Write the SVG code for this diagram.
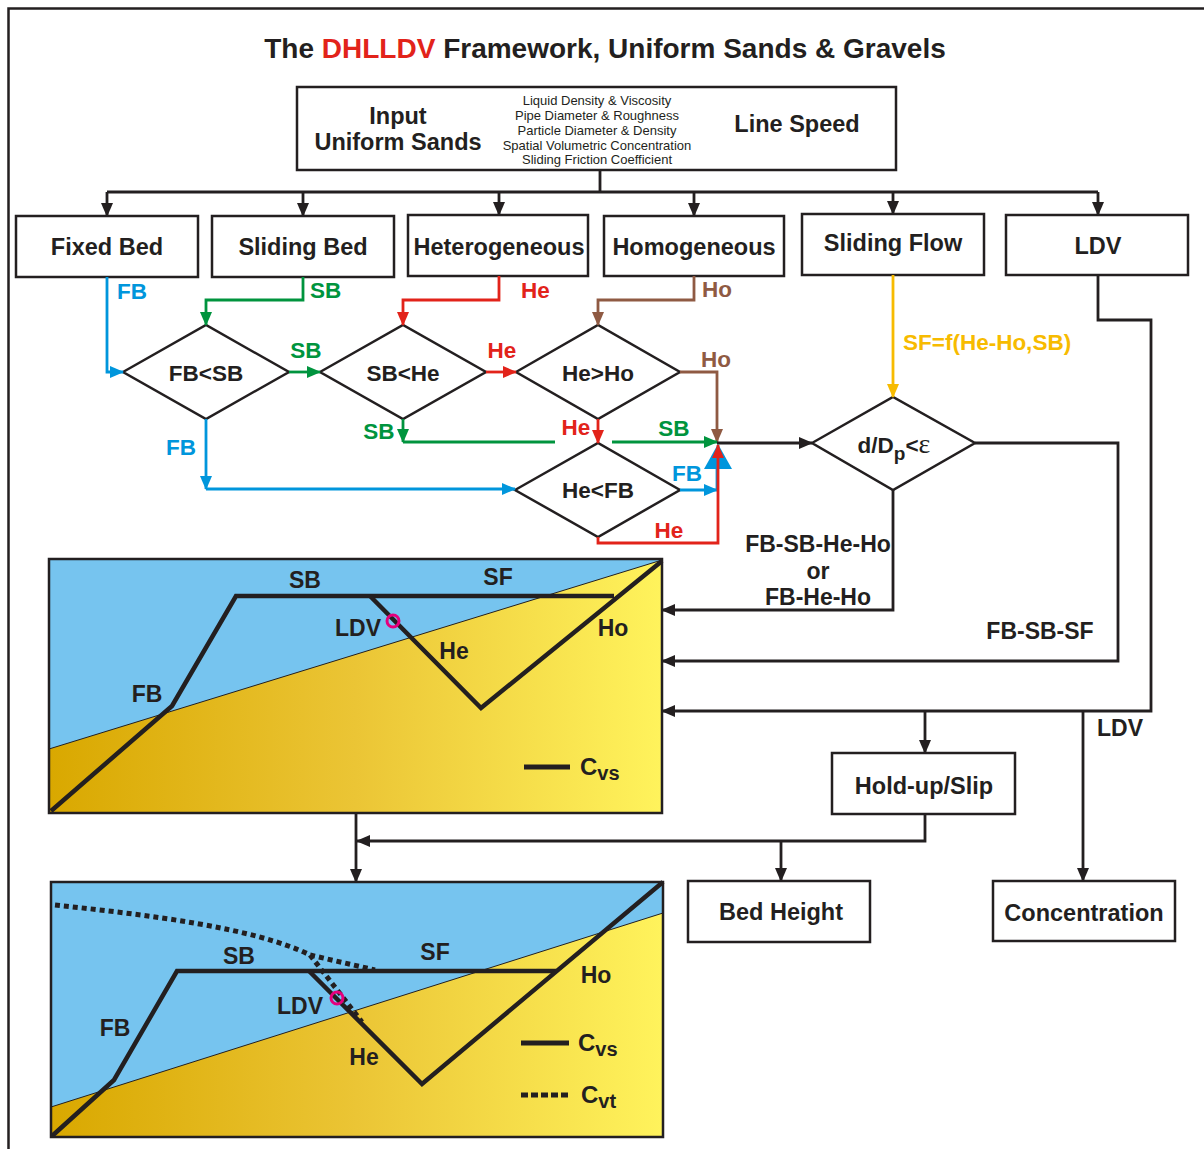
<svg xmlns="http://www.w3.org/2000/svg" width="1204" height="1149" viewBox="0 0 1204 1149">
<style>
text{font-family:"Liberation Sans",Arial,sans-serif;font-weight:bold;fill:#231f20}
.bl{font-size:23.5px;text-anchor:middle}
.sm{font-size:13px;font-weight:normal;text-anchor:middle}
.dl{font-size:22.5px;text-anchor:middle}
.lb{font-size:22.5px}
.cl{font-size:23px;text-anchor:middle}
.box{fill:#fff;stroke:#231f20;stroke-width:2.5}
.dia{fill:#fff;stroke:#231f20;stroke-width:2.5}
.k{fill:none;stroke:#231f20;stroke-width:2.8}
.b{fill:none;stroke:#0096dc;stroke-width:2.8}
.g{fill:none;stroke:#00943e;stroke-width:2.8}
.r{fill:none;stroke:#e2231a;stroke-width:2.8}
.o{fill:none;stroke:#8f5a43;stroke-width:2.8}
.y{fill:none;stroke:#f7bb00;stroke-width:2.8}
.curve{fill:none;stroke:#231f20;stroke-width:4.5;stroke-linejoin:miter}
.tb{fill:#0096dc}.tg{fill:#00943e}.tr{fill:#e2231a}.to{fill:#8f5a43}.ty{fill:#f7bb00}
</style>
<defs>
<marker id="ak" markerUnits="userSpaceOnUse" markerWidth="14" markerHeight="14" refX="13" refY="7" orient="auto"><path d="M0,1 L14,7 L0,13 z" fill="#231f20"/></marker>
<marker id="ab" markerUnits="userSpaceOnUse" markerWidth="14" markerHeight="14" refX="13" refY="7" orient="auto"><path d="M0,1 L14,7 L0,13 z" fill="#0096dc"/></marker>
<marker id="ag" markerUnits="userSpaceOnUse" markerWidth="14" markerHeight="14" refX="13" refY="7" orient="auto"><path d="M0,1 L14,7 L0,13 z" fill="#00943e"/></marker>
<marker id="ar" markerUnits="userSpaceOnUse" markerWidth="14" markerHeight="14" refX="13" refY="7" orient="auto"><path d="M0,1 L14,7 L0,13 z" fill="#e2231a"/></marker>
<marker id="ao" markerUnits="userSpaceOnUse" markerWidth="14" markerHeight="14" refX="13" refY="7" orient="auto"><path d="M0,1 L14,7 L0,13 z" fill="#8f5a43"/></marker>
<marker id="ay" markerUnits="userSpaceOnUse" markerWidth="14" markerHeight="14" refX="13" refY="7" orient="auto"><path d="M0,1 L14,7 L0,13 z" fill="#f7bb00"/></marker>
<linearGradient id="gold" x1="0" y1="0" x2="1" y2="0">
<stop offset="0" stop-color="#d9a800"/>
<stop offset="0.5" stop-color="#ebc535"/>
<stop offset="1" stop-color="#fff35c"/>
</linearGradient>
</defs>
<rect width="1204" height="1149" fill="#fff"/>
<path d="M8.5,1149 L8.5,8.5 L1204,8.5" fill="none" stroke="#231f20" stroke-width="2.5"/>
<text x="605" y="58" font-size="28" text-anchor="middle">The <tspan fill="#e2231a">DHLLDV</tspan> Framework, Uniform Sands &amp; Gravels</text>

<g id="input">
<rect class="box" x="297" y="87" width="599" height="83"/>
<text class="bl" x="398" y="124">Input</text>
<text class="bl" x="398" y="150">Uniform Sands</text>
<text class="sm" x="597" y="104.5">Liquid Density &amp; Viscosity</text>
<text class="sm" x="597" y="119.5">Pipe Diameter &amp; Roughness</text>
<text class="sm" x="597" y="134.5">Particle Diameter &amp; Density</text>
<text class="sm" x="597" y="149.5">Spatial Volumetric Concentration</text>
<text class="sm" x="597" y="164">Sliding Friction Coefficient</text>
<text class="bl" x="797" y="132">Line Speed</text>
</g>

<g id="fixedbed"><rect class="box" x="16" y="216" width="182" height="61"/><text class="bl" x="107" y="255">Fixed Bed</text></g>
<g id="slidingbed"><rect class="box" x="212" y="216" width="182" height="61"/><text class="bl" x="303" y="255">Sliding Bed</text></g>
<g id="heterogeneous"><rect class="box" x="408" y="215" width="180" height="61"/><text class="bl" x="499" y="255">Heterogeneous</text></g>
<g id="homogeneous"><rect class="box" x="604" y="216" width="180" height="60"/><text class="bl" x="694" y="255">Homogeneous</text></g>
<g id="slidingflow"><rect class="box" x="802" y="214" width="182" height="61"/><text class="bl" x="893" y="251">Sliding Flow</text></g>
<g id="ldv"><rect class="box" x="1006" y="215" width="182" height="60"/><text class="bl" x="1098" y="254">LDV</text></g>

<g id="d-fbsb"><polygon class="dia" points="123,372 206,325 289,372 206,419"/><text class="dl" x="206" y="381">FB&lt;SB</text></g>
<g id="d-sbhe"><polygon class="dia" points="320,372 403,325 486,372 403,419"/><text class="dl" x="403" y="381">SB&lt;He</text></g>
<g id="d-heho"><polygon class="dia" points="516,372 598,325 680,372 598,419"/><text class="dl" x="598" y="381">He&gt;Ho</text></g>
<g id="d-hefb"><polygon class="dia" points="515,490 598,443 680,490 598,537"/><text class="dl" x="598" y="498">He&lt;FB</text></g>
<g id="d-ddp"><polygon class="dia" points="812,443 893,397 975,443 893,490"/><text class="dl" x="894" y="453">d/D<tspan font-size="19" dy="7">p</tspan><tspan dy="-7">&lt;</tspan><tspan font-family="'Liberation Serif',serif" font-weight="normal" font-size="28">ε</tspan></text></g>

<g id="holdup"><rect class="box" x="832" y="753" width="183" height="61"/><text class="bl" x="924" y="794">Hold-up/Slip</text></g>
<g id="bedheight"><rect class="box" x="688" y="881" width="182" height="61"/><text class="bl" x="781" y="920">Bed Height</text></g>
<g id="concentration"><rect class="box" x="993" y="881" width="182" height="60"/><text class="bl" x="1084" y="921">Concentration</text></g>

<g id="chart1">
<rect x="49" y="559" width="613" height="254" fill="#76c4ef"/>
<polygon points="49,749 662,560 662,813 49,813" fill="url(#gold)"/>
<line x1="49" y1="749" x2="662" y2="560" stroke="#231f20" stroke-width="1"/>
<polyline class="curve" points="51,811 172,706 236,596 614,596"/>
<polyline class="curve" points="370,596 481,708 662,561"/>
<circle cx="393" cy="621" r="6" fill="none" stroke="#e5007d" stroke-width="3"/>
<rect x="49" y="559" width="613" height="254" fill="none" stroke="#231f20" stroke-width="2.5"/>
<text class="cl" x="305" y="588">SB</text>
<text class="cl" x="498" y="585">SF</text>
<text class="cl" x="358" y="636">LDV</text>
<text class="cl" x="454" y="659">He</text>
<text class="cl" x="613" y="636">Ho</text>
<text class="cl" x="147" y="702">FB</text>
<line x1="524" y1="767" x2="570" y2="767" stroke="#231f20" stroke-width="5"/>
<text x="580" y="775" font-size="24">C<tspan font-size="20" dy="5">vs</tspan></text>
</g>

<g id="chart2">
<rect x="51" y="882" width="612" height="255" fill="#76c4ef"/>
<polygon points="51,1107 663,913 663,1137 51,1137" fill="url(#gold)"/>
<line x1="51" y1="1107" x2="663" y2="913" stroke="#231f20" stroke-width="1"/>
<path d="M55,905 C150,915 255,928 310,955 L375,970 M310,955 L362,1022" fill="none" stroke="#231f20" stroke-width="5" stroke-dasharray="5,4"/>
<polyline class="curve" points="52,1136 114,1080 177,971 556,971"/>
<polyline class="curve" points="309,971 422,1084 663,882"/>
<circle cx="337" cy="998" r="6" fill="none" stroke="#e5007d" stroke-width="3"/>
<rect x="51" y="882" width="612" height="255" fill="none" stroke="#231f20" stroke-width="2.5"/>
<text class="cl" x="239" y="964">SB</text>
<text class="cl" x="435" y="960">SF</text>
<text class="cl" x="596" y="983">Ho</text>
<text class="cl" x="300" y="1014">LDV</text>
<text class="cl" x="115" y="1036">FB</text>
<text class="cl" x="364" y="1065">He</text>
<line x1="521" y1="1043" x2="569" y2="1043" stroke="#231f20" stroke-width="5"/>
<text x="578" y="1051" font-size="24">C<tspan font-size="20" dy="5">vs</tspan></text>
<line x1="521" y1="1095" x2="569" y2="1095" stroke="#231f20" stroke-width="5" stroke-dasharray="7,3"/>
<text x="581" y="1103" font-size="24">C<tspan font-size="20" dy="5">vt</tspan></text>
</g>

<g id="connectors">
<polyline class="k" points="600,170 600,192"/>
<polyline class="k" points="107,192 1098,192"/>
<polyline class="k" points="107,192 107,216" marker-end="url(#ak)"/>
<polyline class="k" points="303,192 303,216" marker-end="url(#ak)"/>
<polyline class="k" points="499,192 499,215" marker-end="url(#ak)"/>
<polyline class="k" points="694,192 694,216" marker-end="url(#ak)"/>
<polyline class="k" points="893,192 893,214" marker-end="url(#ak)"/>
<polyline class="k" points="1098,192 1098,215" marker-end="url(#ak)"/>

<polyline class="b" points="107,277 107,372 123,372" marker-end="url(#ab)"/>
<polyline class="g" points="303,277 303,300 206,300 206,325" marker-end="url(#ag)"/>
<polyline class="r" points="499,276 499,300 403,300 403,325" marker-end="url(#ar)"/>
<polyline class="o" points="694,276 694,300 598,300 598,325" marker-end="url(#ao)"/>
<polyline class="g" points="289,372 320,372" marker-end="url(#ag)"/>
<polyline class="r" points="486,372 516,372" marker-end="url(#ar)"/>
<polyline class="o" points="680,372 717,372 717,442" marker-end="url(#ao)"/>
<polyline class="r" points="598,419 598,443" marker-end="url(#ar)"/>
<polyline class="g" points="403,419 403,442" marker-end="url(#ag)"/>
<polyline class="g" points="403,442 555,442"/>
<polyline class="g" points="612,442 717,442" marker-end="url(#ag)"/>
<polyline class="b" points="206,419 206,489" marker-end="url(#ab)"/>
<polyline class="b" points="206,489 515,489" marker-end="url(#ab)"/>
<polyline class="b" points="680,490 717,490" marker-end="url(#ab)"/>
<polyline class="b" points="717,490 717,467"/>
<polygon points="704,469 732,469 718,444" fill="#0096dc"/>
<polyline class="r" points="598,537 598,543 718,543 718,445" marker-end="url(#ar)"/>
<polyline class="k" points="717,443 812,443" marker-end="url(#ak)"/>
<polyline class="y" points="893,275 893,397" marker-end="url(#ay)"/>
<polyline class="k" points="893,490 893,610 662,610" marker-end="url(#ak)"/>
<polyline class="k" points="975,443 1118,443 1118,661 662,661" marker-end="url(#ak)"/>
<polyline class="k" points="1098,275 1098,320 1151,320 1151,711 662,711" marker-end="url(#ak)"/>
<polyline class="k" points="925,711 925,753" marker-end="url(#ak)"/>
<polyline class="k" points="1083,711 1083,881" marker-end="url(#ak)"/>
<polyline class="k" points="925,814 925,841 357,841" marker-end="url(#ak)"/>
<polyline class="k" points="356,813 356,882" marker-end="url(#ak)"/>
<polyline class="k" points="781,841 781,881" marker-end="url(#ak)"/>

<text class="lb tb" x="117" y="299">FB</text>
<text class="lb tg" x="310" y="298">SB</text>
<text class="lb tr" x="521" y="298">He</text>
<text class="lb to" x="702" y="297">Ho</text>
<text class="lb tg" x="306" y="358" text-anchor="middle">SB</text>
<text class="lb tr" x="502" y="358" text-anchor="middle">He</text>
<text class="lb to" x="716" y="367" text-anchor="middle">Ho</text>
<text class="lb tg" x="379" y="439" text-anchor="middle">SB</text>
<text class="lb tr" x="576" y="435" text-anchor="middle">He</text>
<text class="lb tg" x="674" y="436" text-anchor="middle">SB</text>
<text class="lb tb" x="181" y="455" text-anchor="middle">FB</text>
<text class="lb tb" x="687" y="481" text-anchor="middle">FB</text>
<text class="lb tr" x="669" y="538" text-anchor="middle">He</text>
<text class="lb ty" x="903" y="350" font-size="23.5">SF=f(He-Ho,SB)</text>
<text class="cl" x="818" y="552">FB-SB-He-Ho</text>
<text class="cl" x="818" y="579">or</text>
<text class="cl" x="818" y="605">FB-He-Ho</text>
<text class="cl" x="1040" y="639">FB-SB-SF</text>
<text class="cl" x="1120" y="736">LDV</text>
</g>
</svg>
